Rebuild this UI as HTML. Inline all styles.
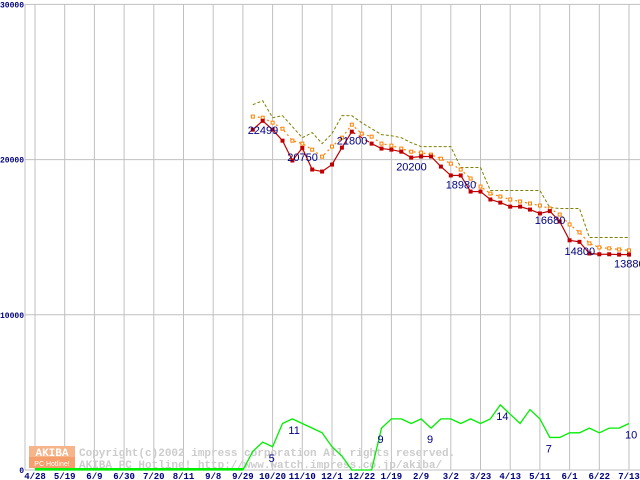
<!DOCTYPE html>
<html><head><meta charset="utf-8"><style>
html,body{margin:0;padding:0;background:#fff;}
svg{display:block;}
</style></head><body>
<svg id="chart" width="640" height="480" viewBox="0 0 640 480" xmlns="http://www.w3.org/2000/svg">
<g id="grid"></g>
<g id="watermark">
 <rect x="29" y="446" width="46" height="11" fill="#f6b48a"/>
 <rect x="29" y="457" width="46" height="11" fill="#f5a06c"/>
 <text x="52" y="456" text-anchor="middle" font-family="Liberation Mono, monospace" font-size="11" font-weight="bold" fill="#fff">AKIBA</text>
 <text x="52" y="466" text-anchor="middle" font-family="Liberation Sans, sans-serif" font-size="7" fill="#fff">PC Hotline!</text>
 <text x="79" y="456" font-family="Liberation Mono, monospace" font-size="11" font-weight="bold" fill="#cccccc">Copyright(c)2002 impress corporation All rights reserved.</text>
 <text x="79" y="468" font-family="Liberation Mono, monospace" font-size="11" font-weight="bold" fill="#cccccc">AKIBA PC Hotline! http://www.watch.impress.co.jp/akiba/</text>
</g>
<g id="series"></g>
<g id="labels"></g>
</svg>
<script>
const xLabels = ["4/28","5/19","6/9","6/30","7/20","8/11","9/8","9/29","10/20","11/10","12/1","12/22","1/19","2/9","3/2","3/23","4/13","5/11","6/1","6/22","7/13"];
const yTicks = [0,10000,20000,30000];
const priceStartWeek = 22;
const maxPrice = [23540,23790,22700,22830,22120,21410,21740,21030,21670,22830,22830,22380,21990,21610,21540,21410,21090,20840,20840,20840,20840,19490,19490,19490,18010,18010,18010,18010,18010,18010,16910,16850,16850,16850,14980,14980,14980,14980,14980];
const avgPrice = [22770,22700,22380,21990,21220,21030,20640,20190,20840,21410,22250,21670,21480,21030,20900,20710,20510,20450,20320,20060,19740,19360,18780,18260,17810,17620,17430,17300,17170,17040,16850,16460,15820,15310,14600,14340,14280,14210,14150];
const minPrice = [21930,22499,21930,21220,19940,20750,19360,19230,19680,20770,21800,null,21030,20710,20640,20510,20130,20200,20200,19550,18980,18980,17940,17940,17430,17230,16970,16970,16780,16530,16680,16010,14800,14700,13950,13900,13900,13880,13880];
const countStartWeek = 21;
const shopCount = [0,4,6,5,10,11,10,9,8,5,3,0,0,0,9,11,11,10,11,9,11,11,10,11,10,11,14,12,10,13,11,7,7,8,8,9,8,9,9,10];
const priceLabelIdx = [1,5,10,16,21,30,33,38];
const priceLabelText = ["22499","20750","21800","20200","18980","16680","14800","13880"];
const countLabelIdx = [3,5,14,19,26,31,39];
const countLabelText = ["5","11","9","9","14","7","10"];

const NS="http://www.w3.org/2000/svg";
const xW = w => 35 + w*9.9;
const yP = v => 470 - v*0.01552;
const yC = c => 470 - c*4.65;
function mk(tag, attrs, parent){const e=document.createElementNS(NS,tag);for(const k in attrs)e.setAttribute(k,attrs[k]);parent.appendChild(e);return e;}
const grid=document.getElementById('grid'), ser=document.getElementById('series'), lab=document.getElementById('labels');

for(let i=0;i<xLabels.length;i++){
  const x=xW(i*3);
  const l=mk('line',{x1:x,y1:4,x2:x,y2:470,stroke:'#c0c0c0','stroke-width':1},grid);
  
  
  const t=mk('text',{x:x,y:479,'text-anchor':'middle','font-family':'Liberation Mono, monospace','font-size':9,'font-weight':'bold',fill:'#000080'},grid);
  t.textContent=xLabels[i];
  
  
}
{const l=mk('line',{x1:25,y1:4,x2:25,y2:470,stroke:'#c0c0c0','stroke-width':1},grid);
 
 }
for(const v of yTicks){
  const y=yP(v);
  const l=mk('line',{x1:25,y1:y,x2:640,y2:y,stroke:'#c0c0c0','stroke-width':1},grid);
  
  
  const t=mk('text',{x:24,y:y+3,'text-anchor':'end','font-family':'Liberation Mono, monospace','font-size':8,'font-weight':'bold',fill:'#000080'},grid);
  t.textContent=String(v);
  
  
}

{let pts=[];pts.push(xW(0)+','+yC(0));
 for(let i=0;i<shopCount.length;i++)pts.push(xW(countStartWeek+i)+','+yC(shopCount[i]));
 const p=mk('polyline',{points:pts.join(' '),fill:'none',stroke:'#00ee00','stroke-width':1.3},ser);
 
 
 const b=mk('line',{x1:xW(0),y1:469,x2:xW(countStartWeek),y2:469,stroke:'#00ee00','stroke-width':2},ser);
 
 }

{const pts=maxPrice.map((v,i)=>xW(priceStartWeek+i)+','+yP(v));
 const p=mk('polyline',{points:pts.join(' '),fill:'none',stroke:'#808000','stroke-width':1,'stroke-dasharray':'3,2'},ser);
 
 }
{const pts=avgPrice.map((v,i)=>xW(priceStartWeek+i)+','+yP(v));
 const p=mk('polyline',{points:pts.join(' '),fill:'none',stroke:'#ff8000','stroke-width':1.2,'stroke-dasharray':'2,3'},ser);
 
 
 avgPrice.forEach((v,i)=>{const r=mk('rect',{x:xW(priceStartWeek+i)-1.5,y:yP(v)-1.5,width:3,height:3,fill:'#fff',stroke:'#ff8000','stroke-width':1},ser);
  
  });}
{let prev=null;
 for(let i=0;i<minPrice.length;i++){
   if(minPrice[i]==null)continue;
   const pt=[xW(priceStartWeek+i),yP(minPrice[i])];
   if(prev){const gap=i-prev.i>1;
     const l=mk('line',{x1:prev.p[0],y1:prev.p[1],x2:pt[0],y2:pt[1],stroke:'#c00000','stroke-width':1.2},ser);
     if(gap)l.setAttribute('stroke-dasharray','4,4');
     
     }
   prev={i:i,p:pt};
 }
 minPrice.forEach((v,i)=>{if(v==null)return;const r=mk('rect',{x:xW(priceStartWeek+i)-2,y:yP(v)-2,width:4,height:4,fill:'#c00000'},ser);
  
  });}

priceLabelIdx.forEach((idx,k)=>{
  const x=xW(priceStartWeek+idx)-15, y=yP(minPrice[idx])+13;
  const t=mk('text',{x:x,y:y,'font-family':'Liberation Sans, sans-serif','font-size':11,fill:'#000080'},lab);
  t.textContent=priceLabelText[k];
  
  
});
countLabelIdx.forEach((idx,k)=>{
  const x=xW(countStartWeek+idx)-4, y=yC(shopCount[idx])+15;
  const t=mk('text',{x:x,y:y,'font-family':'Liberation Sans, sans-serif','font-size':11,fill:'#000080'},lab);
  t.textContent=countLabelText[k];
  
  
});
</script>
</body></html>
